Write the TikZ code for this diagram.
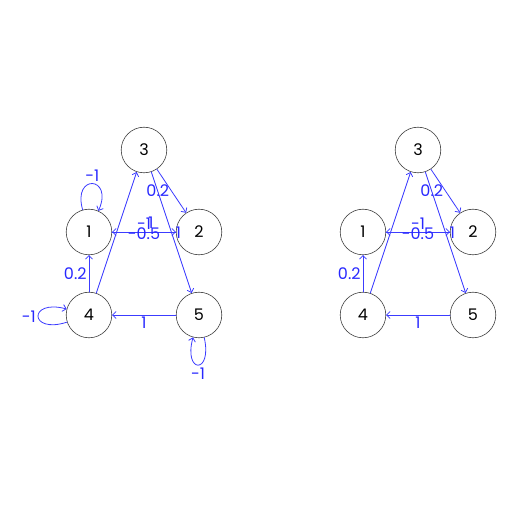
\documentclass[tikz,border=0pt]{standalone}
\usepackage{fontspec}
\setmainfont{Poppins}
\usetikzlibrary{arrows.meta}
\definecolor{edgeblue}{RGB}{60,60,255}
\definecolor{labelblue}{RGB}{40,40,255}
\begin{document}
\begin{tikzpicture}[x=1pt, y=1pt, line join=round, line cap=round,
		font=\fontsize{16}{17}\selectfont,
		vert/.style={circle, draw=black!75, line width=0.6pt, minimum size=45.6pt, inner sep=0pt},
		arc/.style={draw=edgeblue, line width=0.8pt, -{Straight Barb[length=3.5pt, width=7pt]}},
		wt/.style={text=labelblue, inner sep=2pt}]
		\useasboundingbox (0,0) rectangle (512,512);
		\foreach \g/\dx in {l/0, r/274}
			\path[shift={(\dx,0)}]
				(89,280) node[vert] (\g1) {1}
				(199,280) node[vert] (\g2) {2}
				(144,362) node[vert] (\g3) {3}
				(89,197) node[vert] (\g4) {4}
				(199,197) node[vert] (\g5) {5};
		\foreach \g in {l, r} {
			\draw[arc] (\g4) -- node[wt, left] {0.2} (\g1);
			\draw[arc] (\g4) -- (\g3);
			\draw[arc] (\g3) -- node[wt, left] {0.2} (\g2);
			\draw[arc] (\g3) -- node[wt, right, xshift=2] {1} (\g5);
			\draw[arc] (\g5) -- node[wt, below] {1} (\g4);
			\draw[arc] (\g1) -- node[wt, above] {-1} (\g2);
			\draw[arc] (\g2) -- node[wt, yshift=-2] {-0.5} (\g1);
		}
		% only the left one has self loops
		\path (l1) -- node[wt, above, xshift=7, yshift=1] {1} (l2);
		\draw[arc] (l1) to[out=106, in=66, distance=38pt] node[wt, above] {-1} (l1);
		\draw[arc] (l4) to[out=198, in=165, distance=40pt] node[wt, left] {-1} (l4);
		\draw[arc] (l5) to[out=283, in=255, distance=38pt] node[wt, below] {-1} (l5);
	\end{tikzpicture}
\end{document}
